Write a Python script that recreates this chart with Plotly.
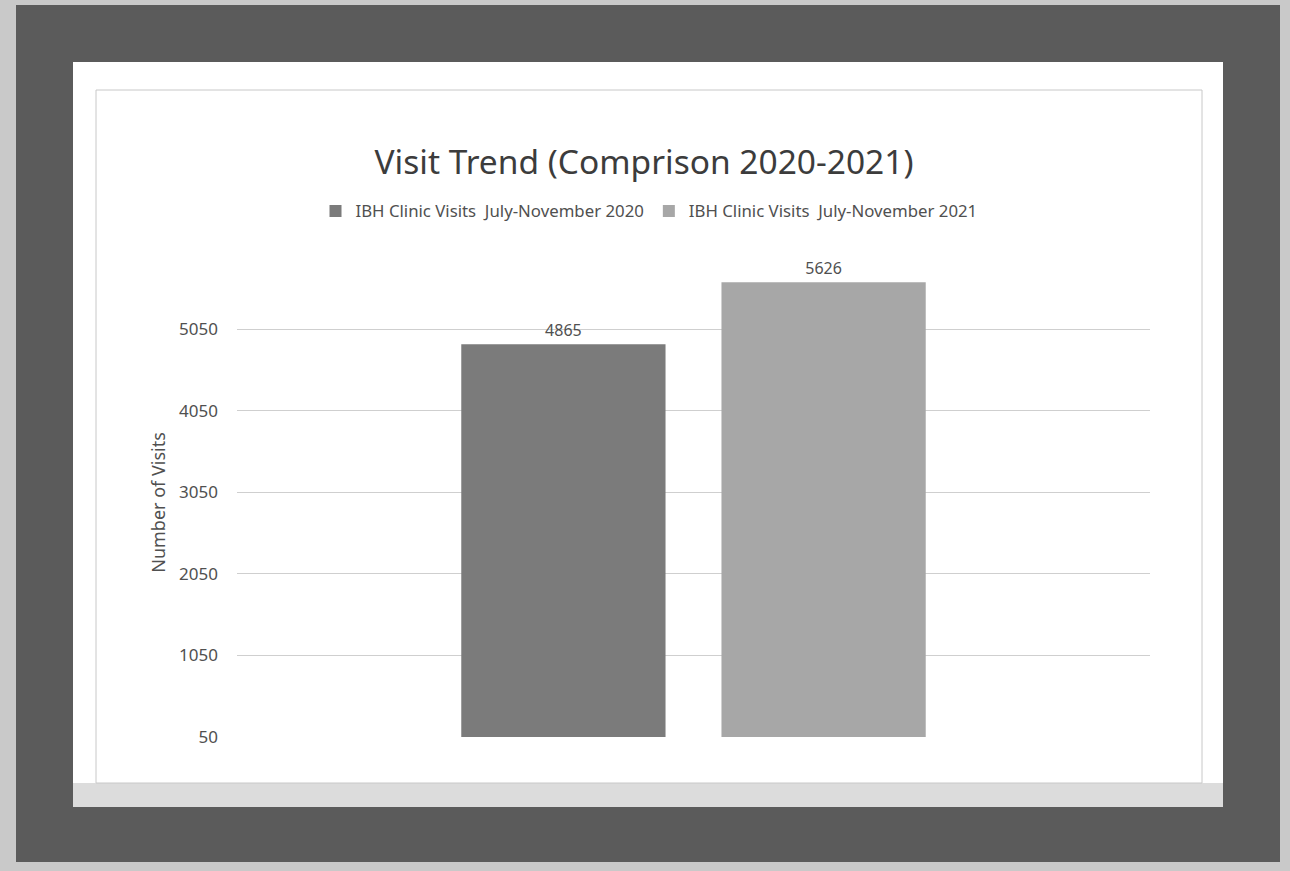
import plotly.graph_objects as go

# chart data
category = ["Visits"]
series_names = [
    "IBH Clinic Visits  July-November 2020",
    "IBH Clinic Visits  July-November 2021",
]
visits_2020 = [4865]
visits_2021 = [5626]
tick_vals = [50, 1050, 2050, 3050, 4050, 5050]

colors = ["#7b7b7b", "#a7a7a7"]
FONT = "Noto Sans"
TEXT = "#505050"

W, H = 1290, 871
L, R, T, B = 237, 140, 268, 134
PW, PH = W - L - R, H - T - B


def px(x, y):
    # figure pixel -> paper coordinates (for the photo frame decoration)
    return (x - L) / PW, (H - B - y) / PH


def rect(x0, y0, x1, y1, **kw):
    a, d = px(x0, y0)
    c, b = px(x1, y1)
    return dict(type="rect", xref="paper", yref="paper", x0=a, x1=c,
                y0=b, y1=d, layer="below", **kw)


fig = go.Figure()
for name, vals, col in zip(series_names, [visits_2020, visits_2021], colors):
    fig.add_trace(go.Bar(
        x=category, y=vals, name=name,
        marker=dict(color=col, line=dict(width=0)),
        text=vals, textposition="outside",
        textfont=dict(size=16, color=TEXT, family=FONT),
        cliponaxis=False,
    ))

shapes = [
    rect(16, 5, 1280, 862, fillcolor="#5b5b5b", line=dict(width=0)),
    rect(73, 62, 1223, 807, fillcolor="#ffffff", line=dict(width=0)),
    rect(73, 783, 1223, 807, fillcolor="#dcdcdc", line=dict(width=0)),
    rect(96, 90, 1202, 783, line=dict(color="#c8c8c8", width=1)),
]

fig.update_layout(
    width=W, height=H,
    margin=dict(l=L, r=R, t=T, b=B, autoexpand=False),
    paper_bgcolor="#c9c9c9",
    plot_bgcolor="rgba(0,0,0,0)",
    font=dict(family=FONT, color=TEXT),
    barmode="group",
    bargap=0.43,
    bargroupgap=0.215,
    title=dict(text="Visit Trend (Comprison 2020-2021)", x=(644 - L) / PW,
               xanchor="center", xref="paper",
               y=1 - 162 / H, yanchor="middle",
               font=dict(size=33.5, color="#3c3c3c", family=FONT)),
    legend=dict(orientation="h", x=(649 - L) / PW, xanchor="center",
                y=(H - B - 211) / PH, yanchor="middle",
                font=dict(size=16.8, color=TEXT),
                bgcolor="rgba(0,0,0,0)", itemwidth=30),
    shapes=shapes,
    showlegend=True,
)
fig.update_xaxes(showticklabels=False, showgrid=False, zeroline=False,
                 showline=False)
fig.update_yaxes(range=[50, 5800], tickvals=tick_vals, showgrid=True,
                 gridcolor="#cfcfcf", gridwidth=1, zeroline=False,
                 showline=False, tickfont=dict(size=17, color=TEXT),
                 ticklabelstandoff=18,
                 title=dict(text="Number of Visits", standoff=8,
                            font=dict(size=18, color=TEXT)))

fig.write_html("out.html", config={"displayModeBar": False},
               post_script="document.body.style.margin='0px';")
